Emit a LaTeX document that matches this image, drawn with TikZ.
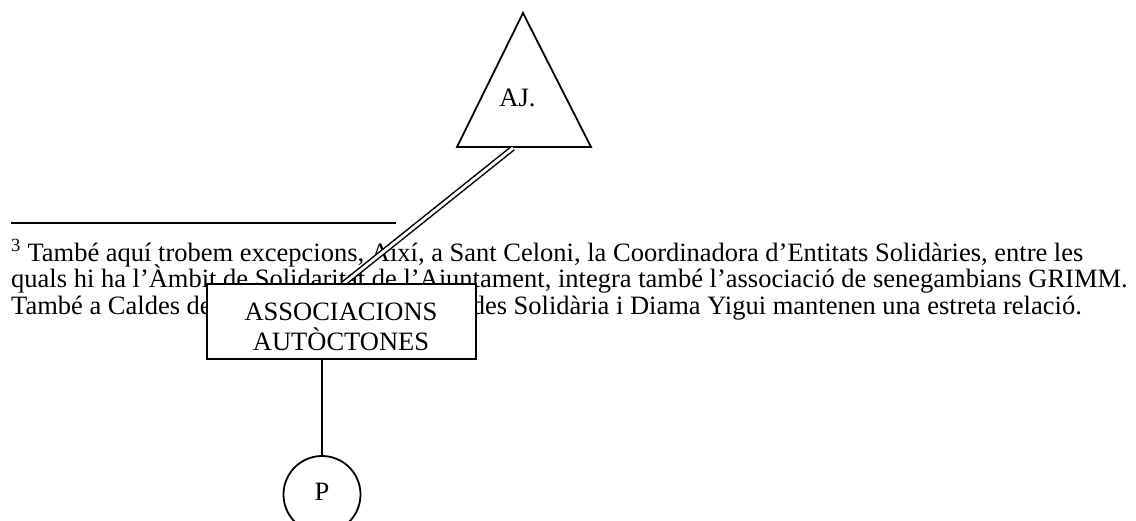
\documentclass[tikz,border=0pt]{standalone}
\usepackage{fontspec}
\setmainfont{Liberation Serif}
\begin{document}
\begin{tikzpicture}[x=1pt,y=-1pt,
  ln/.style={line width=1.8pt},
  txt/.style={inner sep=0pt,font=\fontsize{26.5}{26.5}\selectfont},
  dbl/.style={line width=1.5pt,double,double distance=2.8pt},
  boxnode/.style={draw,line width=1.8pt,fill=white,minimum width=269pt,minimum height=75pt,inner sep=0pt},
  circnode/.style={draw,line width=1.8pt,circle,minimum size=77pt,inner sep=0pt}]
\useasboundingbox[fill=white] (0,0) rectangle (1136,520);
% footnote rule
\coordinate (rl) at (11,223);
\coordinate (rr) at (396,223);
\draw[line width=2pt] (rl) -- (rr);
% footnote text
\node[txt,anchor=base west] (f1) at (11,261) {\textsuperscript{3} També aquí trobem excepcions, Així, a Sant Celoni, la Coordinadora d’Entitats Solidàries, entre les};
\node[txt,anchor=base west] (f2) at (11,287.5) {quals hi ha l’Àmbit de Solidaritat de l’Ajuntament, integra també l’associació de senegambians GRIMM.};
\node[txt,anchor=base west] (f3a) at (11,314) {També a Caldes de};
\node[txt,anchor=base east] (f3b) at (1082,314) {des Solidària i Diama Yigui mantenen una estreta relació.};
% triangle
\coordinate (apex) at (523,13);
\coordinate (bl) at (457,147);
\coordinate (br) at (591,147);
\draw[ln,line join=miter] (apex) -- (bl) -- (br) -- cycle;
\node[txt,anchor=base] (aj) at (517.5,106.5) {AJ.};
% double connector
\coordinate (dtop) at (513,148);
\coordinate (dbot) at (343,284);
\draw[dbl] (dtop) -- (dbot);
% box
\node[boxnode] (box) at (341.5,321.5) {};
\node[txt,anchor=base] (bt1) at (341,320) {ASSOCIACIONS};
\node[txt,anchor=base] (bt2) at (341,350) {AUTÒCTONES};
% circle
\node[circnode] (circ) at (322,494.5) {};
\node[txt,anchor=base] (p) at (322,500) {P};
\draw[ln] (circ.north |- box.south) -- (circ.north);
\end{tikzpicture}
\end{document}
